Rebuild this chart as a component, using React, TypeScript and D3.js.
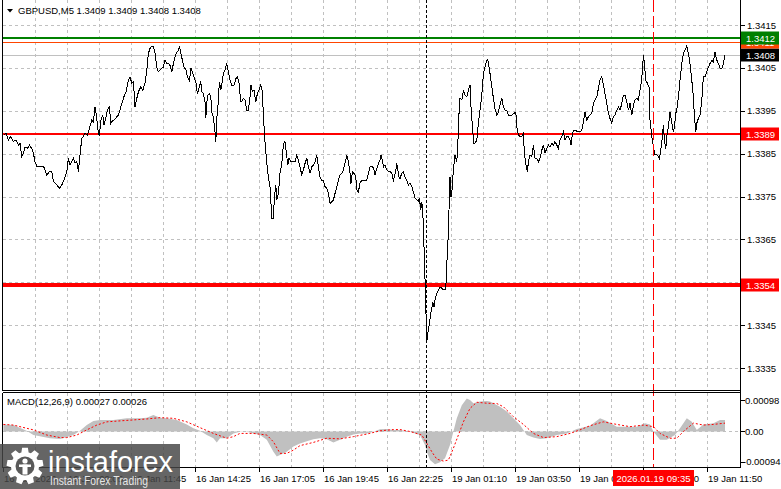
import React from "react";
import * as d3 from "d3";

// ---- chart data ----
const headerText = "GBPUSD,M5  1.3409 1.3409 1.3408 1.3408";
const macdText = "MACD(12,26,9) 0.00027 0.00026";

const priceTicks = [1.3335, 1.3345, 1.3355, 1.3365, 1.3375, 1.3385, 1.3395, 1.3405, 1.3415];

const macdTickValues = [0.00098, 0, -0.00094];
const macdTickLabels = ["0.00098", "0.00", "-0.00094"];

const timeLabelBars = [0, 32, 64, 96, 128, 160, 192, 224, 256, 288, 320, 352];
const timeLabels = [
  "16 Jan 2026", "16 Jan 09:05", "16 Jan 11:45", "16 Jan 14:25", "16 Jan 17:05", "16 Jan 19:45",
  "16 Jan 22:25", "19 Jan 01:10", "19 Jan 03:50", "19 Jan 06:30", "19 Jan 09:10", "19 Jan 11:50",
];

// horizontal levels: current bid, orange, green, red, red
const levelValues = [1.3408, 1.3411, 1.34119, 1.33895, 1.33544];
const levelLabels = ["1.3408", "1.3411", "1.3412", "1.3389", "1.3354"];

const separatorBar = 211.5; // 19 Jan session start
const cursorBar = 325;
const cursorLabel = "2026.01.19 09:35";

// close prices: [bar index, close]
const closes: [number, number][] = [
  [0.2, 1.33893], [1.5, 1.33897], [2.7, 1.33882], [3.9, 1.3389], [5.2, 1.33878], [6.5, 1.33882],
  [7.7, 1.3387], [8.5, 1.33874], [9.4, 1.33843], [10.2, 1.33851], [11, 1.33866], [12.2, 1.33862],
  [13.2, 1.3387], [14.4, 1.33862], [15.2, 1.33851], [16, 1.33831], [16.9, 1.33821], [18.5, 1.33821],
  [20.2, 1.33821], [21, 1.33812], [21.9, 1.338], [23.2, 1.33808], [24.4, 1.33808], [25.2, 1.33785],
  [26, 1.33781], [26.9, 1.33777], [28.2, 1.33769], [29.4, 1.33777], [30.2, 1.33785], [31, 1.33796],
  [31.9, 1.33808], [32.7, 1.33839], [33.5, 1.33824], [34.4, 1.33831], [35.2, 1.33839], [36, 1.33828],
  [36.9, 1.33831], [37.7, 1.33808], [38.5, 1.33847], [39.4, 1.33886], [40.2, 1.3389], [41, 1.33897],
  [42.2, 1.33893], [43.2, 1.33909], [44.4, 1.33928], [45.2, 1.33924], [46, 1.33959], [46.9, 1.33932],
  [47.7, 1.33897], [48.2, 1.33893], [48.9, 1.33928], [49.9, 1.3394], [50.5, 1.33917], [51.5, 1.33936],
  [52.2, 1.33952], [53.2, 1.33959], [53.9, 1.33921], [54.9, 1.33928], [55.5, 1.33928], [56.9, 1.33936],
  [57.7, 1.3394], [58.5, 1.33952], [59.4, 1.33967], [60.5, 1.33983],
  [61.5, 1.33994], [62.7, 1.34021], [63.5, 1.34029], [64.4, 1.34014], [65.2, 1.34018], [66, 1.33959],
  [66.9, 1.33979], [67.7, 1.33994], [68.9, 1.34006], [69.9, 1.33998], [71, 1.34014], [71.9, 1.34045],
  [72.7, 1.34084], [73.5, 1.34095], [74.4, 1.34101], [75.2, 1.34099], [76, 1.34084], [76.9, 1.34052],
  [77.7, 1.34041], [78.5, 1.34045], [79.4, 1.34049], [80.2, 1.34052], [81, 1.34068], [81.9, 1.3406],
  [82.7, 1.3406], [83.5, 1.34056], [84.4, 1.34041], [85.2, 1.3406], [86, 1.34076], [86.9, 1.34087],
  [87.7, 1.34091], [88.2, 1.34101], [88.9, 1.34084], [89.7, 1.34068], [90.5, 1.34052], [91.5, 1.34045],
  [92.2, 1.34029], [93.2, 1.34021], [94, 1.34049], [94.9, 1.34037], [95.5, 1.34029], [96.5, 1.34014],
  [97.2, 1.3399], [98.2, 1.34006], [98.9, 1.34018], [99.4, 1.33994], [100.2, 1.3399], [101, 1.33971],
  [101.4, 1.33932], [102.2, 1.33986], [103.2, 1.3399], [103.9, 1.33982], [104.5, 1.33944], [105.2, 1.33936],
  [105.9, 1.33905], [106.4, 1.33878], [106.9, 1.33932], [107.5, 1.33963], [108.2, 1.34018], [108.9, 1.33998],
  [109.5, 1.34014], [110.2, 1.34037], [111, 1.34045], [111.9, 1.3406], [112.7, 1.34041], [113.5, 1.34021],
  [114.4, 1.3401], [115.5, 1.3401], [116.5, 1.34025], [117.2, 1.34029], [118, 1.34014], [118.9, 1.33971],
  [119.4, 1.33971], [120.2, 1.33979], [121, 1.33975], [121.9, 1.33951], [122.7, 1.33951], [123.5, 1.33982],
  [124, 1.3401], [124.7, 1.33994], [125.5, 1.33998], [126.4, 1.33971], [127.2, 1.3399], [128, 1.33998],
  [128.9, 1.3401], [129.5, 1.33998], [130.2, 1.33944], [130.7, 1.33897], [131.2, 1.33866], [131.9, 1.33827],
  [132.7, 1.33796], [133.5, 1.33773], [134.4, 1.33699], [135.2, 1.33699], [135.7, 1.33749], [136.4, 1.33777],
  [136.9, 1.33742], [137.7, 1.33757], [138.5, 1.33804], [139.4, 1.33827], [139.9, 1.33858], [140.5, 1.33874],
  [141, 1.33878], [141.9, 1.33843], [142.4, 1.33823], [143, 1.33839], [143.9, 1.33831], [145.2, 1.33831],
  [146, 1.33831], [146.9, 1.33847], [147.7, 1.33835], [148.5, 1.33819], [149.4, 1.338], [150.2, 1.33812],
  [151, 1.33827], [151.9, 1.33839], [152.7, 1.33819], [153.5, 1.33804], [154.4, 1.33819], [155.2, 1.33823],
  [156, 1.33831], [156.9, 1.33847], [157.7, 1.33819], [158.5, 1.33796], [159.4, 1.33788], [160.2, 1.33788],
  [161, 1.33773], [161.9, 1.33769], [162.7, 1.33757], [163.5, 1.33734], [164.4, 1.33738], [165.2, 1.33742],
  [166, 1.33757], [166.9, 1.33773], [167.7, 1.33788], [168.5, 1.338], [169.4, 1.33804], [170.2, 1.33812],
  [171, 1.33827], [171.9, 1.33847], [172.7, 1.33831], [173.5, 1.33804], [174, 1.3378], [174.7, 1.33808],
  [175.5, 1.33804], [176.4, 1.33796], [176.9, 1.33765], [177.7, 1.33761], [178.5, 1.33781],
  [179.4, 1.33788], [180.2, 1.33788], [181.9, 1.33788], [182.7, 1.33804], [183.5, 1.33819], [184.9, 1.33819],
  [185.5, 1.33812], [186, 1.338], [186.9, 1.33815], [187.7, 1.33827], [188.5, 1.33835], [189, 1.33847],
  [189.7, 1.33835], [190.2, 1.33819], [191, 1.33823], [191.9, 1.33812], [192.7, 1.33808], [193.5, 1.33808],
  [194.4, 1.33804], [195.2, 1.33788], [195.7, 1.33796], [196.4, 1.33812], [196.9, 1.33827], [197.4, 1.33812],
  [198, 1.33796], [198.5, 1.33792], [199.4, 1.33804], [200.2, 1.33808], [201, 1.33796], [201.9, 1.33788],
  [202.7, 1.33777], [203.5, 1.33781], [204.4, 1.33773], [204.9, 1.33765], [205.5, 1.33757], [206, 1.33746],
  [206.9, 1.33742], [207.7, 1.33738], [208.2, 1.33746], [208.9, 1.33718], [209.4, 1.33738], [209.9, 1.33711],
  [210.2, 1.33679], [210.5, 1.33633], [210.9, 1.33563], [211.2, 1.33547], [211.5, 1.33477], [211.9, 1.33411],
  [212.4, 1.33431], [212.7, 1.33438], [213.2, 1.33454], [213.9, 1.33477], [214.4, 1.33489], [214.9, 1.33504],
  [215.5, 1.33493], [216, 1.33508], [216.9, 1.33524], [217.7, 1.33532], [218.5, 1.33539], [219.4, 1.33536],
  [220.2, 1.33532], [221, 1.33532], [221.5, 1.33547], [222, 1.33602], [222.5, 1.33648], [223, 1.33718],
  [223.5, 1.33796], [224, 1.33749], [224.5, 1.33765], [225.2, 1.33812], [226, 1.33847], [226.9, 1.33831],
  [227.4, 1.3387], [227.9, 1.33936], [228.5, 1.33979], [229.4, 1.33975], [230.2, 1.33998], [231, 1.33986],
  [231.9, 1.33982], [232.7, 1.33998], [233.5, 1.3401], [234, 1.33959], [234.7, 1.33913], [235.4, 1.33874],
  [236, 1.33874], [236.9, 1.33882], [237.7, 1.33921], [238.5, 1.33951], [239.4, 1.33986], [240.2, 1.34037],
  [241, 1.34052], [241.9, 1.34068], [242.4, 1.3407], [243, 1.34052], [243.5, 1.34037],
  [244.4, 1.34006], [245.2, 1.33979], [246, 1.33955], [246.9, 1.3394], [247.7, 1.33947], [248.5, 1.33963],
  [249.4, 1.33979], [250.2, 1.33959], [251, 1.33951], [251.9, 1.33951], [252.7, 1.3394], [254.4, 1.3394],
  [255.5, 1.33944], [256.4, 1.33947], [256.9, 1.33913], [257.7, 1.33893], [258.5, 1.3389], [259.4, 1.3389],
  [260.2, 1.33897], [260.7, 1.33851], [261.4, 1.33827], [262.2, 1.33808], [262.7, 1.33831], [263.5, 1.33847],
  [264.4, 1.33843], [265.2, 1.3387], [266, 1.33839], [266.9, 1.33839], [267.7, 1.33831], [268.5, 1.33839],
  [269.4, 1.33858], [270.2, 1.3387], [271, 1.33851], [271.9, 1.33862], [272.7, 1.3387], [273.5, 1.33866],
  [274.4, 1.33874], [275.2, 1.3387], [276, 1.33878], [276.9, 1.3387], [277.7, 1.33862], [278.5, 1.33882],
  [279.4, 1.3389], [280.2, 1.33901], [281, 1.33882], [281.9, 1.3389], [282.7, 1.3389], [283.5, 1.33882],
  [284, 1.3387], [284.7, 1.33897], [285.5, 1.33905], [286.4, 1.33905], [287.2, 1.33901], [288.5, 1.33901],
  [289.4, 1.33905], [290.2, 1.33924], [291, 1.33947], [291.9, 1.33928], [292.7, 1.33936], [293.5, 1.3394],
  [294.4, 1.33944], [295.2, 1.33967], [296, 1.33975], [296.9, 1.33982], [297.7, 1.34002], [298.5, 1.34021],
  [299.4, 1.34029], [300.2, 1.3401], [301, 1.3399],
  [301.9, 1.33967], [302.7, 1.33944], [303.5, 1.33932], [304.4, 1.33921], [305.2, 1.33936], [306, 1.3394],
  [306.9, 1.33951], [307.7, 1.33959], [308.5, 1.33951], [309.4, 1.33967], [310.2, 1.33986], [311, 1.33986],
  [311.9, 1.33971], [312.7, 1.33951], [313.5, 1.33967], [314.4, 1.3394], [315.2, 1.33963], [316, 1.33975],
  [316.9, 1.33979], [317.7, 1.33975], [318.5, 1.33998], [319.4, 1.34025], [320.2, 1.3408], [320.7, 1.3406],
  [321.4, 1.34021], [322.2, 1.34014], [323, 1.34006], [323.5, 1.33928], [324.4, 1.3389], [325.2, 1.33866],
  [326, 1.33847], [326.9, 1.33847], [327.7, 1.33843], [328.2, 1.33839], [328.9, 1.33858], [329.7, 1.3389],
  [330.2, 1.33917], [330.7, 1.33882], [331.4, 1.33862], [331.9, 1.3389], [332.7, 1.33913], [333.5, 1.33947],
  [334.4, 1.33921], [335.2, 1.33901], [335.7, 1.33913], [336.4, 1.33944], [337, 1.33955], [337.7, 1.33982],
  [338.5, 1.34021], [339.4, 1.3406], [340.2, 1.34084], [341, 1.34091], [341.9, 1.34101], [342.7, 1.34084],
  [343.5, 1.3406], [344.4, 1.34021], [345.2, 1.33982], [345.7, 1.33936], [346.4, 1.33901], [346.9, 1.33921],
  [347.7, 1.33932], [348.5, 1.3394], [349.4, 1.33975], [350.2, 1.34029], [351, 1.34029], [351.9, 1.34041],
  [352.7, 1.34052], [353.5, 1.3406], [354.4, 1.34068], [355.2, 1.34064], [356, 1.34087], [356.9, 1.34068],
  [357.7, 1.3406], [358.5, 1.34049], [359.4, 1.34049], [360.2, 1.3406], [361, 1.3408],
];

// MACD histogram: [bar index, value]
const macdHist: [number, number][] = [
  [0.2, 0.00022], [5.2, 0.0002], [11.8, 0.00002], [15.2, -0.00011], [23.5, -0.00021], [28.5, -0.00023],
  [35.2, -0.00011], [38.5, 0.00002], [41.9, 0.0002], [45.2, 0.00033], [48.5, 0.00036], [55.2, 0.00036],
  [61.9, 0.00041], [68.5, 0.00041], [71.9, 0.00043], [75.2, 0.00051], [78.5, 0.00043], [81.9, 0.00041],
  [86.9, 0.00036], [91.9, 0.00022], [95.2, 0.0001], [98.5, 0.00002], [101.9, -0.00011], [105.2, -0.00021],
  [106.9, -0.00034], [108.5, -0.00021], [111.9, -0.00021], [115.2, -0.00006], [118.5, -0.00001], [121.9, -0.00001],
  [125.2, -0.00006], [128.5, -0.00011], [131.9, -0.00026], [135.2, -0.00063], [136.9, -0.00078], [138.5, -0.00073],
  [141.9, -0.00063], [145.2, -0.00047], [148.5, -0.00037], [151.9, -0.0003], [155.2, -0.00024], [158.5, -0.00021],
  [161.9, -0.00024], [165.2, -0.00034], [168.5, -0.00026], [171.9, -0.00016], [175.2, -0.00009], [178.5, -0.00006],
  [181.9, -0.00006], [185.2, -0.00001], [188.5, 0.00007], [191.9, 0.00008], [195.2, 0.00005], [198.5, 0.00005],
  [203.5, -0.00001], [208.5, -0.00011], [211, -0.00042], [211.9, -0.00063], [213.5, -0.00089], [216, -0.00102],
  [218.5, -0.00096], [221, -0.00083], [223.5, -0.00042], [225.2, 0], [226.9, 0.00041], [229.4, 0.00082],
  [231.9, 0.00103], [233.5, 0.00098], [235.2, 0.00088], [238.5, 0.00093], [241.9, 0.00095], [243.5, 0.00093],
  [245.2, 0.00088], [248.5, 0.00077], [251.9, 0.00062], [255.2, 0.00041], [258.5, 0.0002], [261.9, -0.00011],
  [265.2, -0.00019], [268.5, -0.00023], [271.9, -0.00021], [276.9, -0.00011], [281.9, -0.00006], [286.9, 0.00008],
  [293.5, 0.00018], [298.5, 0.00041], [301.9, 0.00033], [306.9, 0.00015], [311.9, 0.00015], [316.9, 0.00015],
  [321, 0.00026], [323.5, 0.00022], [325.2, 0], [328.5, -0.00026], [331.9, -0.00026], [336, -0.00011],
  [338.5, 0.0001], [341.9, 0.00041], [344.4, 0.0003], [346.9, 0.00005], [350.2, 0.00022], [355.2, 0.00026],
  [358.5, 0.00036], [361, 0.00036],
];

// MACD signal line: [bar index, value]
const macdSignal: [number, number][] = [
  [0.2, 0.00022], [5.2, 0.0002], [8.5, 0.00015], [15.2, 0.00005], [21.9, -0.00011], [28.5, -0.00019],
  [31.9, -0.00019], [36.9, -0.00011], [41.9, 0.00005], [46.9, 0.0002], [51.9, 0.0003], [58.5, 0.00033],
  [65.2, 0.00036], [71.9, 0.00039], [78.5, 0.00043], [85.2, 0.00041], [91.9, 0.0003], [98.5, 0.00012],
  [105.2, -0.00006], [111.9, -0.00021], [115.2, -0.00016], [118.5, -0.00006], [125.2, -0.00006], [131.9, -0.00011],
  [135.2, -0.00032], [138.5, -0.00068], [141.9, -0.00068], [145.2, -0.00058], [148.5, -0.00044], [155.2, -0.00034],
  [161.9, -0.00021], [168.5, -0.00023], [175.2, -0.00016], [181.9, -0.00008], [188.5, 0.00002], [195.2, 0.00006],
  [198.5, 0.00006], [203.5, 0], [209.4, -0.00011], [211.9, -0.00037], [214.4, -0.00063], [216.9, -0.00086],
  [220.2, -0.00092], [222.7, -0.00089], [225.2, -0.00052], [227.7, -0.00011], [230.2, 0.0003], [233.5, 0.00072],
  [236.9, 0.00091], [241.9, 0.00088], [246.9, 0.00087], [250.2, 0.00077], [255.2, 0.00046], [260.2, 0.00022],
  [265.2, -0.00006], [270.2, -0.00019], [276.9, -0.00016], [283.5, -0.00006], [288.5, 0.00005], [293.5, 0.00018],
  [300.2, 0.0003], [306.9, 0.00022], [313.5, 0.00015], [320.2, 0.0002], [325.2, 0.00015], [328.5, -0.00006],
  [333.5, -0.00021], [336.9, -0.00021], [340.2, 0], [345.2, 0.00026], [350.2, 0.0002], [355.2, 0.00022],
  [361, 0.00026],
];

const FONT = "Liberation Sans, Arial, sans-serif";
const FS = 9.5;

export default function App() {
  const W = 781;
  const H = 489;
  const left = 2.5;
  const axisX = 740.5;
  const mainBottom = 390.5;
  const subTop = 392.5;
  const subBottom = 467.5;

  const x = d3.scaleLinear().domain([0, 368.5]).range([3, 740]);
  const y = d3.scaleLinear().domain([1.3335, 1.3415]).range([368, 25]);
  const ym = d3.scaleLinear().domain([-0.00094, 0.00098]).range([461.7, 400]);

  const priceLine = d3.line<[number, number]>().x((d) => x(d[0])).y((d) => y(d[1]));
  const histArea = d3
    .area<[number, number]>()
    .x((d) => x(d[0]))
    .y0(ym(0))
    .y1((d) => ym(d[1]));
  const signalLine = d3.line<[number, number]>().x((d) => x(d[0])).y((d) => ym(d[1]));

  const gridBars = d3.range(16, 368, 16);

  // level styles: current bid, orange, green, red, red (thick)
  const levelStyle = [
    { line: "#c0c0c0", w: 1, box: "#000000" },
    { line: "#ff4500", w: 1, box: "#ff4500" },
    { line: "#008000", w: 2, box: "#008000" },
    { line: "#ff0000", w: 2, box: "#ff0000" },
    { line: "#ff0000", w: 4, box: "#ff0000" },
  ];

  // gear outline for the watermark logo
  const gearPts: [number, number][] = [];
  d3.range(9).forEach((i) => {
    const a = (i * 2 * Math.PI) / 9;
    const s = Math.PI / 9;
    gearPts.push([a - s * 0.75, 14]);
    gearPts.push([a - s * 0.45, 18.5]);
    gearPts.push([a + s * 0.45, 18.5]);
    gearPts.push([a + s * 0.75, 14]);
  });
  const gearPath = d3.lineRadial().angle((d) => d[0]).radius((d) => d[1]).curve(d3.curveLinearClosed)(gearPts) || "";

  return (
    <svg
      width={W}
      height={H}
      viewBox={`0 0 ${W} ${H}`}
      style={{ position: "absolute", left: 0, top: 0, background: "#ffffff" }}
      fontFamily={FONT}
    >
      <rect width={W} height={H} fill="#ffffff" />

      {/* grid - main panel */}
      <g stroke="#c0c0c0" strokeDasharray="3,3" shapeRendering="crispEdges">
        {priceTicks.map((t) => (
          <line key={"h" + t} x1={left} x2={axisX} y1={Math.round(y(t)) + 0.5} y2={Math.round(y(t)) + 0.5} />
        ))}
        {gridBars.map((b) => (
          <line key={"v" + b} x1={x(b) + 0.5} x2={x(b) + 0.5} y1={0} y2={mainBottom} />
        ))}
        {gridBars.map((b) => (
          <line key={"vs" + b} x1={x(b) + 0.5} x2={x(b) + 0.5} y1={subTop} y2={subBottom} />
        ))}
        <line x1={left} x2={axisX} y1={Math.round(ym(0)) + 0.5} y2={Math.round(ym(0)) + 0.5} />
      </g>

      {/* horizontal levels */}
      {levelValues.map((v, i) => (
        <line
          key={"lv" + i}
          x1={left}
          x2={axisX}
          y1={y(v)}
          y2={y(v)}
          stroke={levelStyle[i].line}
          strokeWidth={levelStyle[i].w}
          shapeRendering="crispEdges"
        />
      ))}

      {/* MACD histogram and signal */}
      <path d={histArea(macdHist) || ""} fill="#c0c0c0" />
      <path d={signalLine(macdSignal) || ""} fill="none" stroke="#ff0000" strokeWidth={1} strokeDasharray="2,2" />

      {/* price line */}
      <path d={priceLine(closes) || ""} fill="none" stroke="#000000" strokeWidth={1} shapeRendering="crispEdges" />

      {/* session separator and cursor line */}
      <line
        x1={x(separatorBar)}
        x2={x(separatorBar)}
        y1={0}
        y2={subBottom}
        stroke="#000000"
        strokeDasharray="3,2"
        shapeRendering="crispEdges"
      />
      <line
        x1={x(cursorBar) + 0.5}
        x2={x(cursorBar) + 0.5}
        y1={0}
        y2={subBottom}
        stroke="#ff0000"
        strokeDasharray="12,4"
        shapeRendering="crispEdges"
      />

      {/* frames */}
      <g stroke="#000000" fill="none" shapeRendering="crispEdges">
        <line x1={left} x2={left} y1={0} y2={mainBottom} />
        <line x1={left} x2={axisX} y1={mainBottom} y2={mainBottom} />
        <line x1={left} x2={left} y1={subTop} y2={subBottom} />
        <line x1={left} x2={axisX} y1={subTop} y2={subTop} />
        <line x1={left} x2={axisX} y1={subBottom} y2={subBottom} />
        <line x1={axisX} x2={axisX} y1={0} y2={subBottom} />
      </g>

      {/* price axis */}
      <g fontSize={FS} fill="#000000">
        {priceTicks.map((t) => (
          <g key={"pt" + t}>
            <line x1={axisX} x2={axisX + 4} y1={Math.round(y(t)) + 0.5} y2={Math.round(y(t)) + 0.5} stroke="#000" shapeRendering="crispEdges" />
            <text x={747} y={y(t)} dominantBaseline="central">
              {t.toFixed(4)}
            </text>
          </g>
        ))}
      </g>

      {/* level price tags */}
      {levelValues.map((v, i) => (
        <g key={"tag" + i}>
          <rect x={741} y={Math.round(y(v)) - 6.5} width={38} height={13} fill={levelStyle[i].box} />
          <text x={746} y={Math.round(y(v)) + 0.5} dominantBaseline="central" fontSize={FS} fill="#ffffff">
            {levelLabels[i]}
          </text>
        </g>
      ))}

      {/* MACD axis */}
      <g fontSize={FS} fill="#000000">
        {macdTickValues.map((v, i) => (
          <g key={"mt" + i}>
            <line x1={axisX} x2={axisX + 4} y1={Math.round(ym(v)) + 0.5} y2={Math.round(ym(v)) + 0.5} stroke="#000" shapeRendering="crispEdges" />
            <text x={i === 2 ? 743 : 745} y={ym(v)} dominantBaseline="central">
              {macdTickLabels[i]}
            </text>
          </g>
        ))}
      </g>

      {/* time axis */}
      <g fontSize={FS} fill="#000000">
        {timeLabelBars.map((b, i) => (
          <g key={"tl" + i}>
            <line x1={x(b) + 0.5} x2={x(b) + 0.5} y1={subBottom} y2={subBottom + 4} stroke="#000" shapeRendering="crispEdges" />
            <text x={x(b) + 1} y={478} dominantBaseline="central">
              {timeLabels[i]}
            </text>
          </g>
        ))}
      </g>

      {/* cursor time tag */}
      <rect x={x(cursorBar) - 40} y={470} width={81} height={16} fill="#ff0000" />
      <text x={x(cursorBar) + 0.5} y={478} dominantBaseline="central" textAnchor="middle" fontSize={FS} fill="#ffffff">
        {cursorLabel}
      </text>

      {/* titles */}
      <polygon points="7,9 13,9 10,12.5" fill="#000000" />
      <text x={18} y={10.5} dominantBaseline="central" fontSize={FS} fill="#000000">
        {headerText}
      </text>
      <text x={7} y={401} dominantBaseline="central" fontSize={FS} fill="#000000">
        {macdText}
      </text>

      {/* watermark */}
      <g>
        <rect x={0} y={444} width={180} height={45} fill="rgba(70,70,70,0.83)" />
        <g transform="translate(25,466)">
          <path d={gearPath} fill="#ffffff" />
          <circle r={9.5} fill="#5a5a5a" />
          <circle cx={0} cy={-5} r={2.6} fill="#ffffff" />
          <rect x={-2.5} y={-1.5} width={5} height={10} fill="#ffffff" />
          <rect x={-6} y={-1.5} width={12} height={2.5} fill="#ffffff" />
        </g>
        <text x={48} y={472} fontSize={30} fill="#ffffff" textLength={125} lengthAdjust="spacingAndGlyphs">
          instaforex
        </text>
        <text x={50} y={485} fontSize={12} fill="#e6e6e6" textLength={98} lengthAdjust="spacingAndGlyphs">
          Instant Forex Trading
        </text>
      </g>
    </svg>
  );
}
